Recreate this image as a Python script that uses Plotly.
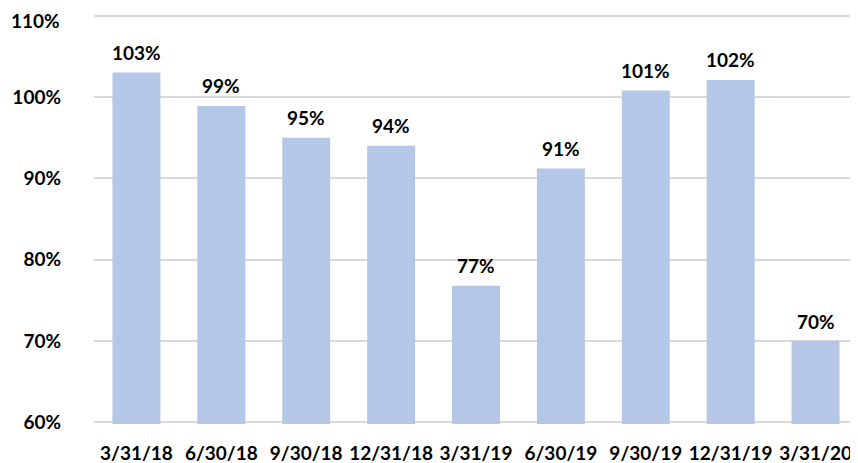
import plotly.graph_objects as go

categories = ["3/31/18", "6/30/18", "9/30/18", "12/31/18", "3/31/19",
              "6/30/19", "9/30/19", "12/31/19", "3/31/20"]
values = [103.0, 98.9, 95.0, 94.0, 76.8, 91.2, 100.8, 102.1, 70.0]
labels = ["103%", "99%", "95%", "94%", "77%", "91%", "101%", "102%", "70%"]
ytick_vals = [60, 70, 80, 90, 100, 110]
ytick_text = ["60%", "70%", "80%", "90%", "100%", "110%"]

FONT = "Lato"
TF = dict(family=FONT, size=19, color="black", weight="bold")

fig = go.Figure(go.Bar(
    x=categories, y=values,
    marker=dict(color="#B4C7E7", line=dict(width=0)),
    hoverinfo="x+y",
))

for c, v, t in zip(categories, values, labels):
    fig.add_annotation(x=c, y=v, text=t, showarrow=False, yshift=20,
                       yanchor="middle", xanchor="center", font=TF)

# top tick label is nudged down (as in the reference) so it is not cut off
axis_text = ytick_text[:-1] + [""]
fig.add_annotation(xref="paper", x=0, y=ytick_vals[-1], text=ytick_text[-1],
                   showarrow=False, xanchor="right", yanchor="middle",
                   xshift=-32, yshift=-5, font=TF)

# page body has an 8px margin, so the figure is drawn 8px smaller
fig.update_layout(
    template="none",
    width=850, height=455,
    margin=dict(l=86, r=0, t=6, b=39, autoexpand=False),
    paper_bgcolor="white", plot_bgcolor="white",
    bargap=0.435, showlegend=False,
    font=TF,
)
fig.update_yaxes(range=[59.8, 110.2], tickvals=ytick_vals, ticktext=axis_text,
                 showgrid=True, gridcolor="#D9D9D9", gridwidth=2,
                 zeroline=False, showline=False, ticks="",
                 ticklabeloverflow="allow",
                 automargin=False, ticklabelstandoff=32, tickfont=TF)
fig.update_xaxes(showline=False, showgrid=False, ticks="", automargin=False,
                 ticklabeloverflow="allow",
                 ticklabelstandoff=16, tickfont=TF)

fig.write_html("out.html")
